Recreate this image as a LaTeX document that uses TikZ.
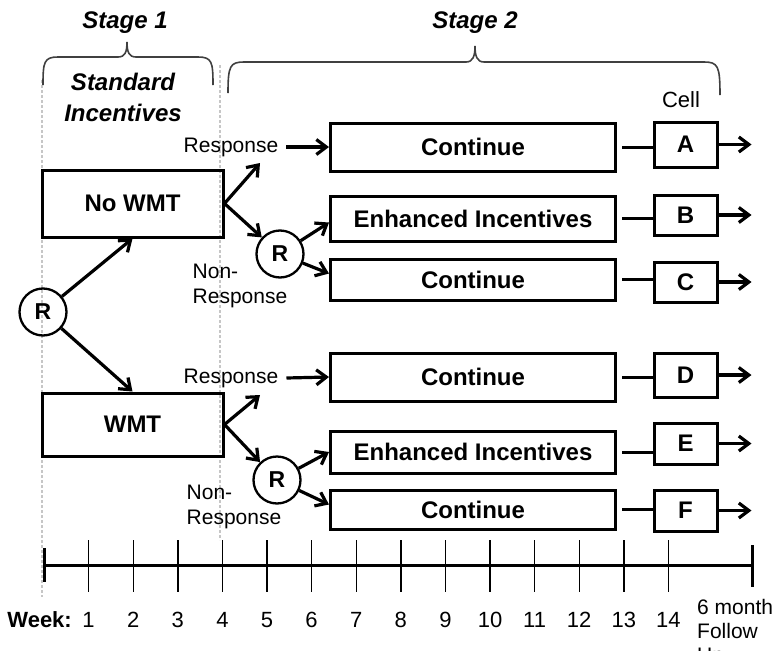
\documentclass[tikz,border=0pt]{standalone}
\usepackage{fontspec}
\setmainfont{Liberation Sans}
\usetikzlibrary{arrows.meta}

\begin{document}
\begin{tikzpicture}[x=1pt, y=-1pt,
    box/.style={draw, line width=3pt, inner sep=0, font=\fontsize{24}{28}\selectfont\bfseries},
    cellbox/.style={draw, line width=3pt, inner sep=0, minimum width=63, font=\fontsize{24}{28}\selectfont\bfseries},
    rand/.style={draw, circle, line width=2.3pt, inner sep=0, minimum size=47, font=\fontsize{23}{26}\selectfont\bfseries},
    arr/.style={line width=3.2pt, -{Straight Barb[length=10pt,width=15pt]}},
    lab/.style={inner sep=0, font=\fontsize{21}{25}\selectfont},
    stagelab/.style={align=center, font=\fontsize{24}{31}\selectfont\bfseries\itshape}]
    \useasboundingbox (0,0) rectangle (780,651);

    % Dotted guides for stage 1
    \draw[gray!45, line width=2.5pt, dash pattern=on 3pt off 2pt] (42,80) -- (42,597);
    \draw[gray!45, line width=2.5pt, dash pattern=on 3pt off 2pt] (220,65) -- (220,540);

    % Brace for stage 1
    \draw[line width=1.6pt, black!75] (43,85) .. controls (43,62) and (44,57) .. (58,57) -- (118,57)
        .. controls (125,57) and (127,52) .. (127,42) .. controls (127,52) and (129,57) .. (136,57)
        -- (198,57) .. controls (212,57) and (213,62) .. (213,85);

    % Brace for stage 2
    \draw[line width=1.6pt, black!75] (228,93) .. controls (228,66) and (230,62) .. (244,62) -- (466,62)
        .. controls (473,62) and (475,56) .. (475,46) .. controls (475,56) and (477,62) .. (484,62)
        -- (704,62) .. controls (718,62) and (720,66) .. (720,95);

    % Stage labels
    \node[stagelab] (stage1) at (125,23) {Stage 1};
    \node[stagelab] (stage2) at (475,23) {Stage 2};
    \node[stagelab] (standard) at (123,97) {Standard\\Incentives};
    \node[lab, font=\fontsize{22}{26}\selectfont] (celllab) at (681,100) {Cell};

    % First randomisation
    \node[rand] (r0) at (43,312) {R};
    \node[box, minimum width=181, minimum height=67] (nowmt) at (132.5,203.5) {No WMT};
    \node[box, minimum width=181, minimum height=63] (wmt) at (132.5,424.5) {WMT};
    \draw[arr] (r0) -- (nowmt.south);
    \draw[arr] (r0) -- (wmt.north);

    % Stage 2 boxes
    \foreach \n/\t/\y/\h in {contA/Continue/147/48, encB/Enhanced Incentives/218.5/45,
                             contC/Continue/279.5/41, contD/Continue/377/48,
                             encE/Enhanced Incentives/452/42, contF/Continue/509.5/39} {
        \node[box, minimum width=285, minimum height=\h] (\n) at (473,\y) {\t};
    }

    % Cells
    \foreach \c/\y/\h in {A/144.5/45, B/215/40, C/282/40, D/375/44, E/443.5/41, F/510.5/41} {
        \node[cellbox, minimum height=\h] (cell\c) at (685.5,\y) {\c};
    }

    % No WMT branch
    \coordinate (up1) at (260,163);
    \node[rand] (r1) at (280,254) {R};
    \node[lab] (resp1) at (231,147) {Response};
    \node[lab, align=left] (nonresp1) at (240,286) {Non-\\Response};
    \draw[arr] (nowmt.east) -- (up1);
    \draw[arr] (nowmt.east) -- (r1);
    \draw[arr] ([xshift=8pt]resp1.east) -- (contA.west);
    \draw[arr] (r1) -- ([yshift=-4pt]encB.west);
    \draw[arr] (r1) -- ([yshift=6pt]contC.west);

    % WMT branch
    \coordinate (up2) at (260,395);
    \node[rand] (r2) at (277,480) {R};
    \node[lab] (resp2) at (231,378) {Response};
    \node[lab, align=left] (nonresp2) at (234,507) {Non-\\Response};
    \draw[arr] (wmt.east) -- (up2);
    \draw[arr] (wmt.east) -- (r2);
    \draw[arr] ([xshift=8pt]resp2.east) -- (contD.west);
    \draw[arr] (r2) -- (encE.west);
    \draw[arr] (r2) -- ([yshift=5pt]contF.west);

    % Boxes to cells
    \foreach \b/\c in {contA/A, encB/B, contC/C, contD/D, encE/E, contF/F} {
        \draw[line width=3pt] ([xshift=5pt]\b.east) -- (\b.east -| cell\c.west);
        \path (cell\c.east) ++(33,0) coordinate (out\c);
        \draw[arr] (cell\c.east) -- (out\c);
    }

    % Timeline
    \draw[line width=3pt] (44,565) -- (752,565);
    \draw[line width=3pt] (44,548) -- (44,582);
    \draw[line width=3pt] (752,545) -- (752,587);
    \foreach \w in {1,...,14} {
        \draw[line width=1.4pt] (44+44.6*\w,540) -- (44+44.6*\w,592);
        \node[lab, font=\fontsize{22}{26}\selectfont] (wk\w) at (44+44.6*\w,620) {\w};
    }
    \node[lab, anchor=east, font=\fontsize{22}{26}\selectfont\bfseries] (week) at (72,620) {Week:};
    \node[lab, align=left, anchor=north west, font=\fontsize{21}{24}\selectfont] (follow) at (697,599) {6 month\\Follow\\Up};
\end{tikzpicture}
\end{document}
